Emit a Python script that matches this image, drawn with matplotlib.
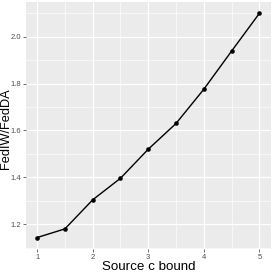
import matplotlib
matplotlib.use("Agg")
import matplotlib.pyplot as plt
import numpy as np

plt.rcParams['font.family'] = ['Liberation Sans', 'DejaVu Sans']

# data
c_bound = [1.0, 1.5, 2.0, 2.5, 3.0, 3.5, 4.0, 4.5, 5.0]
ratio = [1.143, 1.180, 1.304, 1.396, 1.520, 1.630, 1.776, 1.939, 2.100]
x_ticks = [1, 2, 3, 4, 5]
y_ticks = [1.2, 1.4, 1.6, 1.8, 2.0]

fig = plt.figure(figsize=(2.73, 2.73), dpi=100)
ax = fig.add_axes([26 / 273, (273 - 248.8) / 273, 244.5 / 273, 246.7 / 273])
ax.set_facecolor("#EBEBEB")

ax.plot(c_bound, ratio, color="black", lw=1.0, marker="o", ms=2.3, zorder=3)

ax.set_xlim(0.8, 5.2)
ax.set_ylim(1.095, 2.148)
ax.set_xticks(x_ticks)
ax.set_xticklabels([str(t) for t in x_ticks])
ax.set_yticks(y_ticks)
ax.set_yticklabels(["%.1f" % t for t in y_ticks])
ax.set_xticks([1.5, 2.5, 3.5, 4.5], minor=True)
ax.set_yticks([1.1, 1.3, 1.5, 1.7, 1.9, 2.1], minor=True)

ax.grid(which="major", color="white", lw=0.9)
ax.grid(which="minor", color="white", lw=0.45)
ax.set_axisbelow(True)
for s in ax.spines.values():
    s.set_visible(False)

ax.tick_params(which="major", length=2, width=0.5, color="#333333",
               labelsize=5.5, labelcolor="#4D4D4D", pad=1.5)
ax.tick_params(which="minor", length=0)

# axis titles placed like the ggplot original
fig.text(148.4 / 273, 3 / 273, "Source c bound", fontsize=9.6,
         ha="center", va="baseline")
fig.text(0, 1 - 129 / 273, "FedIW/FedDA", fontsize=9.2,
         rotation=90, ha="left", va="center")

plt.savefig("out.png", dpi=100)
